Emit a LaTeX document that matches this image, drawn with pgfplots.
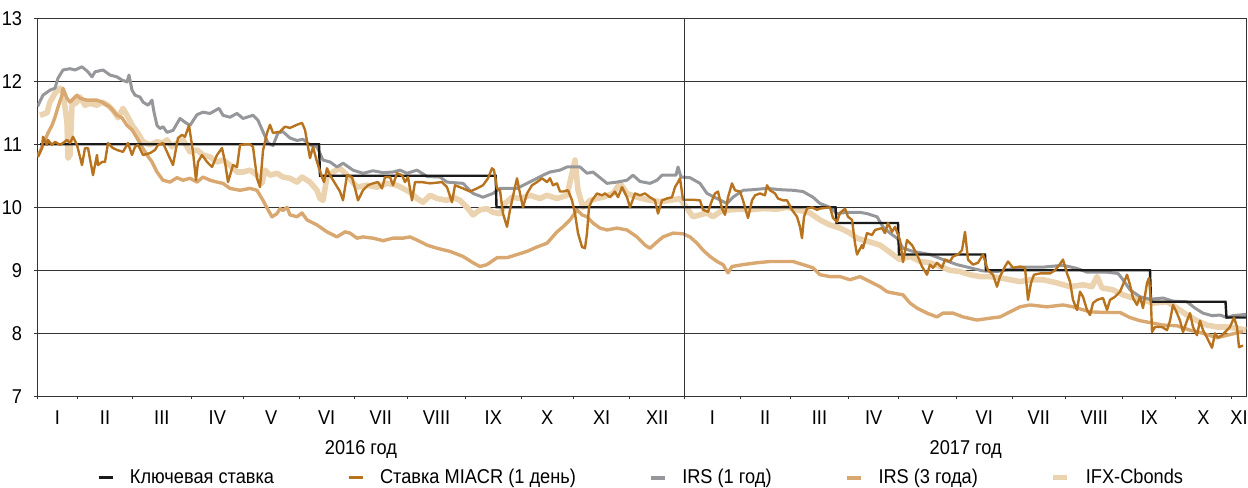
\documentclass[border=0pt]{standalone}
\usepackage{fontspec}
\setmainfont{Liberation Sans}[FakeStretch=0.91]
\usepackage{pgfplots}
\pgfplotsset{compat=1.18}
\definecolor{keyc}{HTML}{1A1A1A}
\definecolor{miacr}{HTML}{B8731E}
\definecolor{irsone}{HTML}{96979A}
\definecolor{irsthree}{HTML}{D9A870}
\definecolor{ifx}{HTML}{ECD3B0}
\definecolor{gridc}{HTML}{333333}
\newcommand{\lf}{\fontsize{10bp}{12bp}\selectfont}
\begin{document}
\lf
\begin{tikzpicture}
\begin{axis}[
  scale only axis, width=604.7bp, height=189bp,
  xmin=37.3, xmax=1246.7, ymin=7, ymax=13,
  clip mode=individual,
  ytick={7,8,9,10,11,12,13},
  ymajorgrids, grid style={color=gridc, line width=0.5bp},
  axis line style={color=gridc, line width=0.5bp},
  tick style={color=gridc, line width=0.5bp},
  tick align=outside, major tick length=1.6bp, tick pos=left,
  xtick={37.3,77.3,132.7,191,243.7,299,354.3,407.3,465.7,521,573.7,629.7,684.7,740,790.3,848.7,898.7,956.7,1012,1065.7,1122.7,1175.7,1231.3},
  xticklabels={},
  extra x ticks={57.3,105,161.8,217.3,271.3,326.6,380.8,436.5,493.3,547.3,601.7,657.2,712.3,765.1,819.5,873.7,927.7,984.3,1038.8,1094.2,1149.2,1203.5,1239},
  extra x tick labels={I,II,III,IV,V,VI,VII,VIII,IX,X,XI,XII,I,II,III,IV,V,VI,VII,VIII,IX,X,XI},
  extra x tick style={major tick length=0pt, xticklabel style={anchor=base, yshift=-14.35bp}},
  ticklabel style={font=\lf},
  yticklabel style={xshift=-2.5bp},
  /pgf/number format/assume math mode=true,
  legend columns=5,
  legend style={draw=none, fill=none, font=\lf, at={(0.5,-0.2157)}, anchor=center,
    /tikz/every even column/.append style={column sep=34.5bp},
    /tikz/every odd column/.append style={column sep=6bp}},
  legend image code/.code={\draw[#1] (0bp,0bp) -- (7bp,0bp);},
]
\addlegendimage{keyc, line width=1.5bp}
\addlegendentry{Ключевая ставка}
\addlegendimage{miacr, line width=1.5bp}
\addlegendentry{Ставка MIACR (1 день)}
\addlegendimage{irsone, line width=1.7bp}
\addlegendentry{IRS (1 год)}
\addlegendimage{irsthree, line width=2bp}
\addlegendentry{IRS (3 года)}
\addlegendimage{ifx, line width=2.5bp}
\addlegendentry{IFX-Cbonds}

% IFX-Cbonds
\addplot[forget plot, ifx, line width=2.8bp, line join=round] coordinates {
(40,11.46)(47,11.5)(50,11.67)(55,11.81)(60,11.89)(63,11.83)(67,11.35)(68,10.78)(70,10.83)(72,11.62)(77,11.67)(80,11.75)(85,11.62)(90,11.65)(97,11.62)(102,11.67)(108,11.62)(113,11.54)(118,11.42)(123,11.57)(128,11.43)(133,11.28)(137,11.2)(143,11.04)(150,10.99)(157,11.04)(163,11.02)(167,11.07)(172,10.96)(177,11.02)(183,11.07)(190,10.88)(197,10.91)(203,10.83)(210,10.8)(217,10.72)(223,10.75)(230,10.67)(237,10.56)(243,10.56)(250,10.59)(257,10.51)(262,10.38)(265,10.59)(270,10.51)(277,10.54)(283,10.48)(290,10.46)(297,10.4)(302,10.48)(310,10.4)(317,10.27)(320,10.14)(323,10.11)(327,10.48)(333,10.56)(340,10.62)(347,10.51)(357,10.32)(367,10.35)(377,10.32)(387,10.38)(397,10.35)(403,10.3)(410,10.24)(417,10.14)(423,10.08)(430,10.19)(437,10.14)(447,10.11)(453,10.16)(460,10.11)(467,10.0)(473,9.88)(480,9.96)(487,9.98)(493,9.92)(500,9.9)(505,10.06)(512,10.16)(520,10.14)(530,10.19)(540,10.14)(547,10.19)(557,10.14)(567,10.19)(572,10.54)(575,10.75)(578,10.27)(583,10.0)(590,10.11)(597,10.14)(603,10.16)(613,10.22)(620,10.38)(627,10.22)(637,10.16)(650,10.11)(660,10.09)(670,10.11)(680,10.14)(687,9.98)(693,9.85)(700,9.88)(707,9.91)(713,9.85)(720,9.93)(730,9.96)(740,9.97)(750,9.96)(763,9.98)(777,9.97)(787,10.0)(797,9.96)(810,9.91)(820,9.8)(830,9.72)(840,9.67)(850,9.59)(857,9.51)(863,9.48)(870,9.45)(880,9.4)(887,9.32)(893,9.25)(900,9.17)(910,9.22)(920,9.14)(930,9.12)(940,9.06)(950,9.0)(960,8.98)(970,8.93)(980,8.9)(990,8.9)(1000,8.88)(1010,8.85)(1020,8.82)(1030,8.85)(1043,8.85)(1057,8.8)(1070,8.74)(1083,8.77)(1092,8.74)(1097,8.9)(1102,8.72)(1113,8.69)(1123,8.61)(1133,8.56)(1143,8.53)(1153,8.48)(1167,8.5)(1177,8.4)(1187,8.29)(1197,8.2)(1207,8.13)(1217,8.1)(1227,8.1)(1237,8.08)(1246,8.05)
};
% IRS 3y
\addplot[forget plot, irsthree, line width=1.7bp, line join=round] coordinates {
(37.5,10.8)(43,10.99)(48,11.18)(52,11.3)(55,11.43)(58,11.59)(62,11.78)(63,11.89)(67,11.73)(70,11.67)(77,11.78)(80,11.73)(87,11.7)(97,11.7)(102,11.67)(110,11.59)(117,11.46)(122,11.42)(127,11.3)(132,11.23)(137,11.1)(142,10.96)(147,10.83)(152,10.72)(157,10.56)(163,10.43)(170,10.4)(177,10.47)(183,10.43)(190,10.46)(197,10.4)(203,10.48)(210,10.43)(217,10.4)(223,10.38)(230,10.3)(240,10.27)(250,10.3)(257,10.27)(263,10.11)(268,9.96)(272,9.85)(277,9.9)(280,9.98)(283,9.95)(287,10.0)(290,9.88)(297,9.85)(302,9.91)(307,9.8)(317,9.72)(327,9.61)(337,9.53)(345,9.61)(350,9.59)(357,9.51)(363,9.53)(373,9.51)(383,9.47)(393,9.51)(403,9.51)(410,9.53)(417,9.48)(427,9.4)(437,9.35)(450,9.3)(463,9.22)(473,9.12)(480,9.06)(487,9.09)(497,9.2)(507,9.2)(517,9.25)(527,9.3)(537,9.37)(547,9.43)(557,9.61)(563,9.69)(570,9.8)(577,9.96)(582,9.88)(587,9.85)(593,9.75)(600,9.67)(607,9.64)(617,9.67)(627,9.64)(637,9.53)(645,9.4)(650,9.35)(657,9.45)(663,9.53)(673,9.59)(683,9.58)(690,9.53)(697,9.43)(703,9.32)(710,9.22)(717,9.14)(723,9.09)(728,8.96)(732,9.06)(743,9.09)(757,9.12)(770,9.14)(783,9.14)(793,9.14)(803,9.09)(813,9.04)(820,8.93)(830,8.9)(840,8.9)(850,8.85)(860,8.9)(870,8.82)(880,8.74)(887,8.66)(893,8.64)(903,8.61)(910,8.48)(917,8.4)(927,8.32)(937,8.26)(943,8.32)(953,8.32)(963,8.26)(977,8.21)(990,8.24)(1000,8.26)(1010,8.34)(1020,8.42)(1030,8.45)(1047,8.42)(1063,8.45)(1073,8.42)(1090,8.34)(1107,8.33)(1120,8.33)(1130,8.25)(1140,8.2)(1150,8.17)(1163,8.13)(1177,8.12)(1190,8.05)(1203,8.0)(1217,7.93)(1230,7.98)(1243,8.03)
};
% IRS 1y
\addplot[forget plot, irsone, line width=1.5bp, line join=round] coordinates {
(37.5,11.6)(43,11.78)(50,11.86)(55,11.89)(58,12.05)(63,12.18)(70,12.2)(75,12.18)(82,12.23)(88,12.15)(92,12.07)(95,12.15)(103,12.18)(110,12.1)(117,12.07)(122,12.02)(127,11.99)(129,12.1)(132,11.86)(135,11.78)(140,11.75)(143,11.67)(148,11.62)(152,11.7)(154,11.51)(157,11.3)(160,11.25)(163,11.28)(167,11.19)(173,11.22)(180,11.41)(185,11.35)(190,11.3)(197,11.47)(203,11.51)(210,11.49)(219,11.57)(223,11.46)(230,11.43)(237,11.49)(243,11.41)(253,11.46)(258,11.38)(263,11.2)(268,11.02)(273,10.98)(278,11.18)(283,11.2)(290,11.1)(297,11.06)(303,11.08)(310,10.99)(317,10.96)(323,10.75)(330,10.72)(337,10.64)(343,10.7)(353,10.59)(363,10.54)(373,10.58)(383,10.55)(393,10.56)(400,10.59)(407,10.54)(417,10.59)(427,10.49)(440,10.48)(447,10.4)(463,10.38)(473,10.22)(483,10.16)(493,10.22)(500,10.3)(517,10.3)(527,10.38)(537,10.46)(543,10.51)(550,10.56)(560,10.59)(567,10.64)(580,10.64)(587,10.54)(593,10.56)(600,10.47)(607,10.38)(617,10.4)(627,10.43)(633,10.51)(640,10.41)(650,10.38)(657,10.43)(662,10.51)(676,10.51)(678,10.64)(681,10.48)(690,10.47)(700,10.38)(707,10.22)(717,10.14)(727,10.06)(733,10.16)(743,10.27)(753,10.28)(767,10.3)(780,10.28)(793,10.27)(803,10.25)(813,10.16)(820,10.06)(830,10.0)(837,9.9)(847,9.92)(860,9.92)(867,9.9)(877,9.85)(883,9.69)(890,9.59)(897,9.51)(903,9.35)(913,9.3)(930,9.25)(943,9.17)(957,9.09)(970,9.04)(983,8.99)(997,8.98)(1010,9.02)(1023,9.05)(1043,9.05)(1063,9.08)(1077,9.03)(1087,8.97)(1107,8.97)(1118,8.95)(1123,8.85)(1130,8.69)(1140,8.58)(1150,8.54)(1163,8.56)(1173,8.51)(1187,8.5)(1195,8.4)(1203,8.32)(1212,8.28)(1220,8.29)(1227,8.25)(1233,8.28)(1246,8.3)
};
% Key rate
\addplot[forget plot, keyc, line width=1.2bp] coordinates {
(40,11)(319,11)(320,10.5)(495.7,10.5)(496.5,10)(835.5,10)(836.5,9.75)(898,9.75)(899,9.25)(985,9.25)(986,9)(1150,9)(1151,8.5)(1225.5,8.5)(1226.5,8.25)(1246,8.25)
};
% MIACR
\addplot[forget plot, miacr, line width=1.2bp, line join=round] coordinates {
(38,10.8)(42,10.94)(43,11.12)(47,10.99)(48,11.07)(52,10.99)(55,11.04)(60,10.99)(63,11.02)(67,11.07)(70,11.02)(73,11.12)(77,10.99)(82,10.67)(85,10.94)(88,10.94)(93,10.51)(97,10.83)(98,10.67)(102,10.72)(105,10.72)(108,11.02)(113,10.94)(117,10.91)(123,10.88)(128,11.02)(132,10.83)(135,10.96)(138,10.99)(143,10.83)(150,10.86)(155,10.91)(158,10.99)(163,11.02)(167,10.88)(173,10.67)(178,11.1)(182,11.15)(185,11.12)(189,11.3)(193,10.88)(196,10.43)(198,10.72)(202,10.83)(207,10.72)(212,10.64)(217,10.83)(222,10.94)(225,10.72)(228,10.4)(233,10.67)(237,10.64)(240,10.99)(245,11.0)(250,11.0)(253,10.96)(257,10.46)(260,10.32)(263,10.9)(267,11.18)(270,11.31)(273,11.18)(280,11.2)(285,11.28)(290,11.26)(297,11.31)(302,11.34)(305,11.23)(310,10.78)(313,10.96)(317,10.72)(322,10.48)(324,10.4)(327,10.62)(330,10.51)(335,10.38)(340,10.25)(343,10.11)(347,10.51)(352,10.48)(355,10.3)(358,10.11)(363,10.27)(368,10.35)(373,10.38)(378,10.4)(382,10.3)(385,10.48)(390,10.48)(393,10.35)(397,10.54)(402,10.51)(405,10.4)(408,10.48)(412,10.11)(415,10.4)(422,10.4)(430,10.38)(442,10.4)(447,10.32)(452,10.08)(455,10.35)(463,10.3)(470,10.25)(477,10.3)(483,10.35)(488,10.46)(492,10.62)(494,10.59)(497,10.3)(500,10.27)(503,9.9)(507,9.69)(510,9.96)(515,10.32)(517,10.46)(520,10.22)(523,10.0)(527,10.22)(532,10.35)(537,10.4)(542,10.46)(547,10.4)(550,10.46)(553,10.35)(557,10.38)(560,10.25)(563,10.25)(568,10.27)(572,10.11)(575,9.9)(578,9.59)(582,9.37)(585,9.35)(587,9.59)(589,10.0)(592,10.11)(597,10.22)(602,10.19)(605,10.22)(610,10.16)(615,10.25)(618,10.16)(622,10.32)(627,10.16)(630,10.0)(635,10.22)(640,10.19)(645,10.22)(650,10.16)(655,10.11)(658,9.9)(662,10.11)(667,10.14)(672,10.16)(675,10.32)(678,10.4)(680,10.46)(683,10.12)(693,10.12)(700,10.11)(703,9.96)(708,9.93)(712,10.11)(715,10.22)(718,10.25)(722,9.98)(725,9.88)(728,10.16)(732,10.38)(735,10.27)(740,10.25)(743,10.11)(748,9.83)(752,10.11)(755,10.19)(760,10.22)(765,10.19)(767,10.35)(770,10.27)(775,10.22)(778,10.14)(783,10.11)(787,10.11)(792,9.96)(797,9.85)(800,9.69)(802,9.51)(804,9.85)(807,9.98)(812,10.0)(817,9.96)(820,9.98)(830,10.0)(833,9.83)(837,9.77)(840,9.91)(845,9.98)(848,9.85)(852,9.8)(855,9.43)(857,9.25)(862,9.4)(863,9.35)(867,9.59)(872,9.56)(875,9.64)(882,9.67)(885,9.59)(888,9.75)(892,9.61)(895,9.69)(900,9.48)(903,9.13)(907,9.48)(912,9.4)(917,9.25)(922,9.06)(927,8.93)(930,9.09)(933,9.04)(937,9.12)(942,9.04)(945,9.17)(950,9.14)(953,9.22)(958,9.25)(962,9.32)(965,9.61)(968,9.17)(973,9.09)(978,9.12)(983,9.25)(988,9.0)(993,8.93)(997,8.74)(1000,8.9)(1005,9.06)(1008,9.14)(1013,9.04)(1020,9.06)(1025,9.04)(1028,8.53)(1031,8.8)(1034,8.93)(1040,8.95)(1043,8.95)(1050,8.95)(1055,9.0)(1060,9.1)(1063,9.17)(1067,8.95)(1070,8.82)(1073,8.53)(1077,8.37)(1080,8.66)(1083,8.58)(1087,8.37)(1090,8.29)(1093,8.48)(1097,8.53)(1103,8.56)(1107,8.37)(1110,8.53)(1115,8.58)(1120,8.66)(1125,8.85)(1127,8.93)(1130,8.77)(1133,8.56)(1137,8.45)(1140,8.58)(1143,8.4)(1147,8.8)(1149,8.88)(1151,8.48)(1152,8.02)(1155,8.1)(1162,8.1)(1167,8.05)(1170,8.2)(1173,8.45)(1177,8.32)(1180,8.2)(1183,8.02)(1187,8.2)(1190,8.32)(1193,8.1)(1197,7.97)(1200,8.2)(1203,8.05)(1207,7.93)(1212,7.77)(1215,8.0)(1218,7.93)(1222,7.97)(1227,8.05)(1230,8.1)(1234,8.25)(1237,8.1)(1239,7.78)(1242,7.8)(1243,7.8)
};
\draw[gridc, line width=0.5bp] (axis cs:684.7,7) -- (axis cs:684.7,13);
\node[anchor=base, font=\lf, yshift=-29.35bp] at (axis cs:361,7) {2016 год};
\node[anchor=base, font=\lf, yshift=-29.35bp] at (axis cs:965.7,7) {2017 год};
\coordinate (ll) at (rel axis cs:0,0);
\coordinate (ur) at (rel axis cs:1,1);
\end{axis}
\pgfresetboundingbox
\path[use as bounding box] ([xshift=-18.65bp,yshift=-45.85bp]ll) rectangle ([xshift=0.65bp,yshift=9.15bp]ur);
\end{tikzpicture}
\end{document}
